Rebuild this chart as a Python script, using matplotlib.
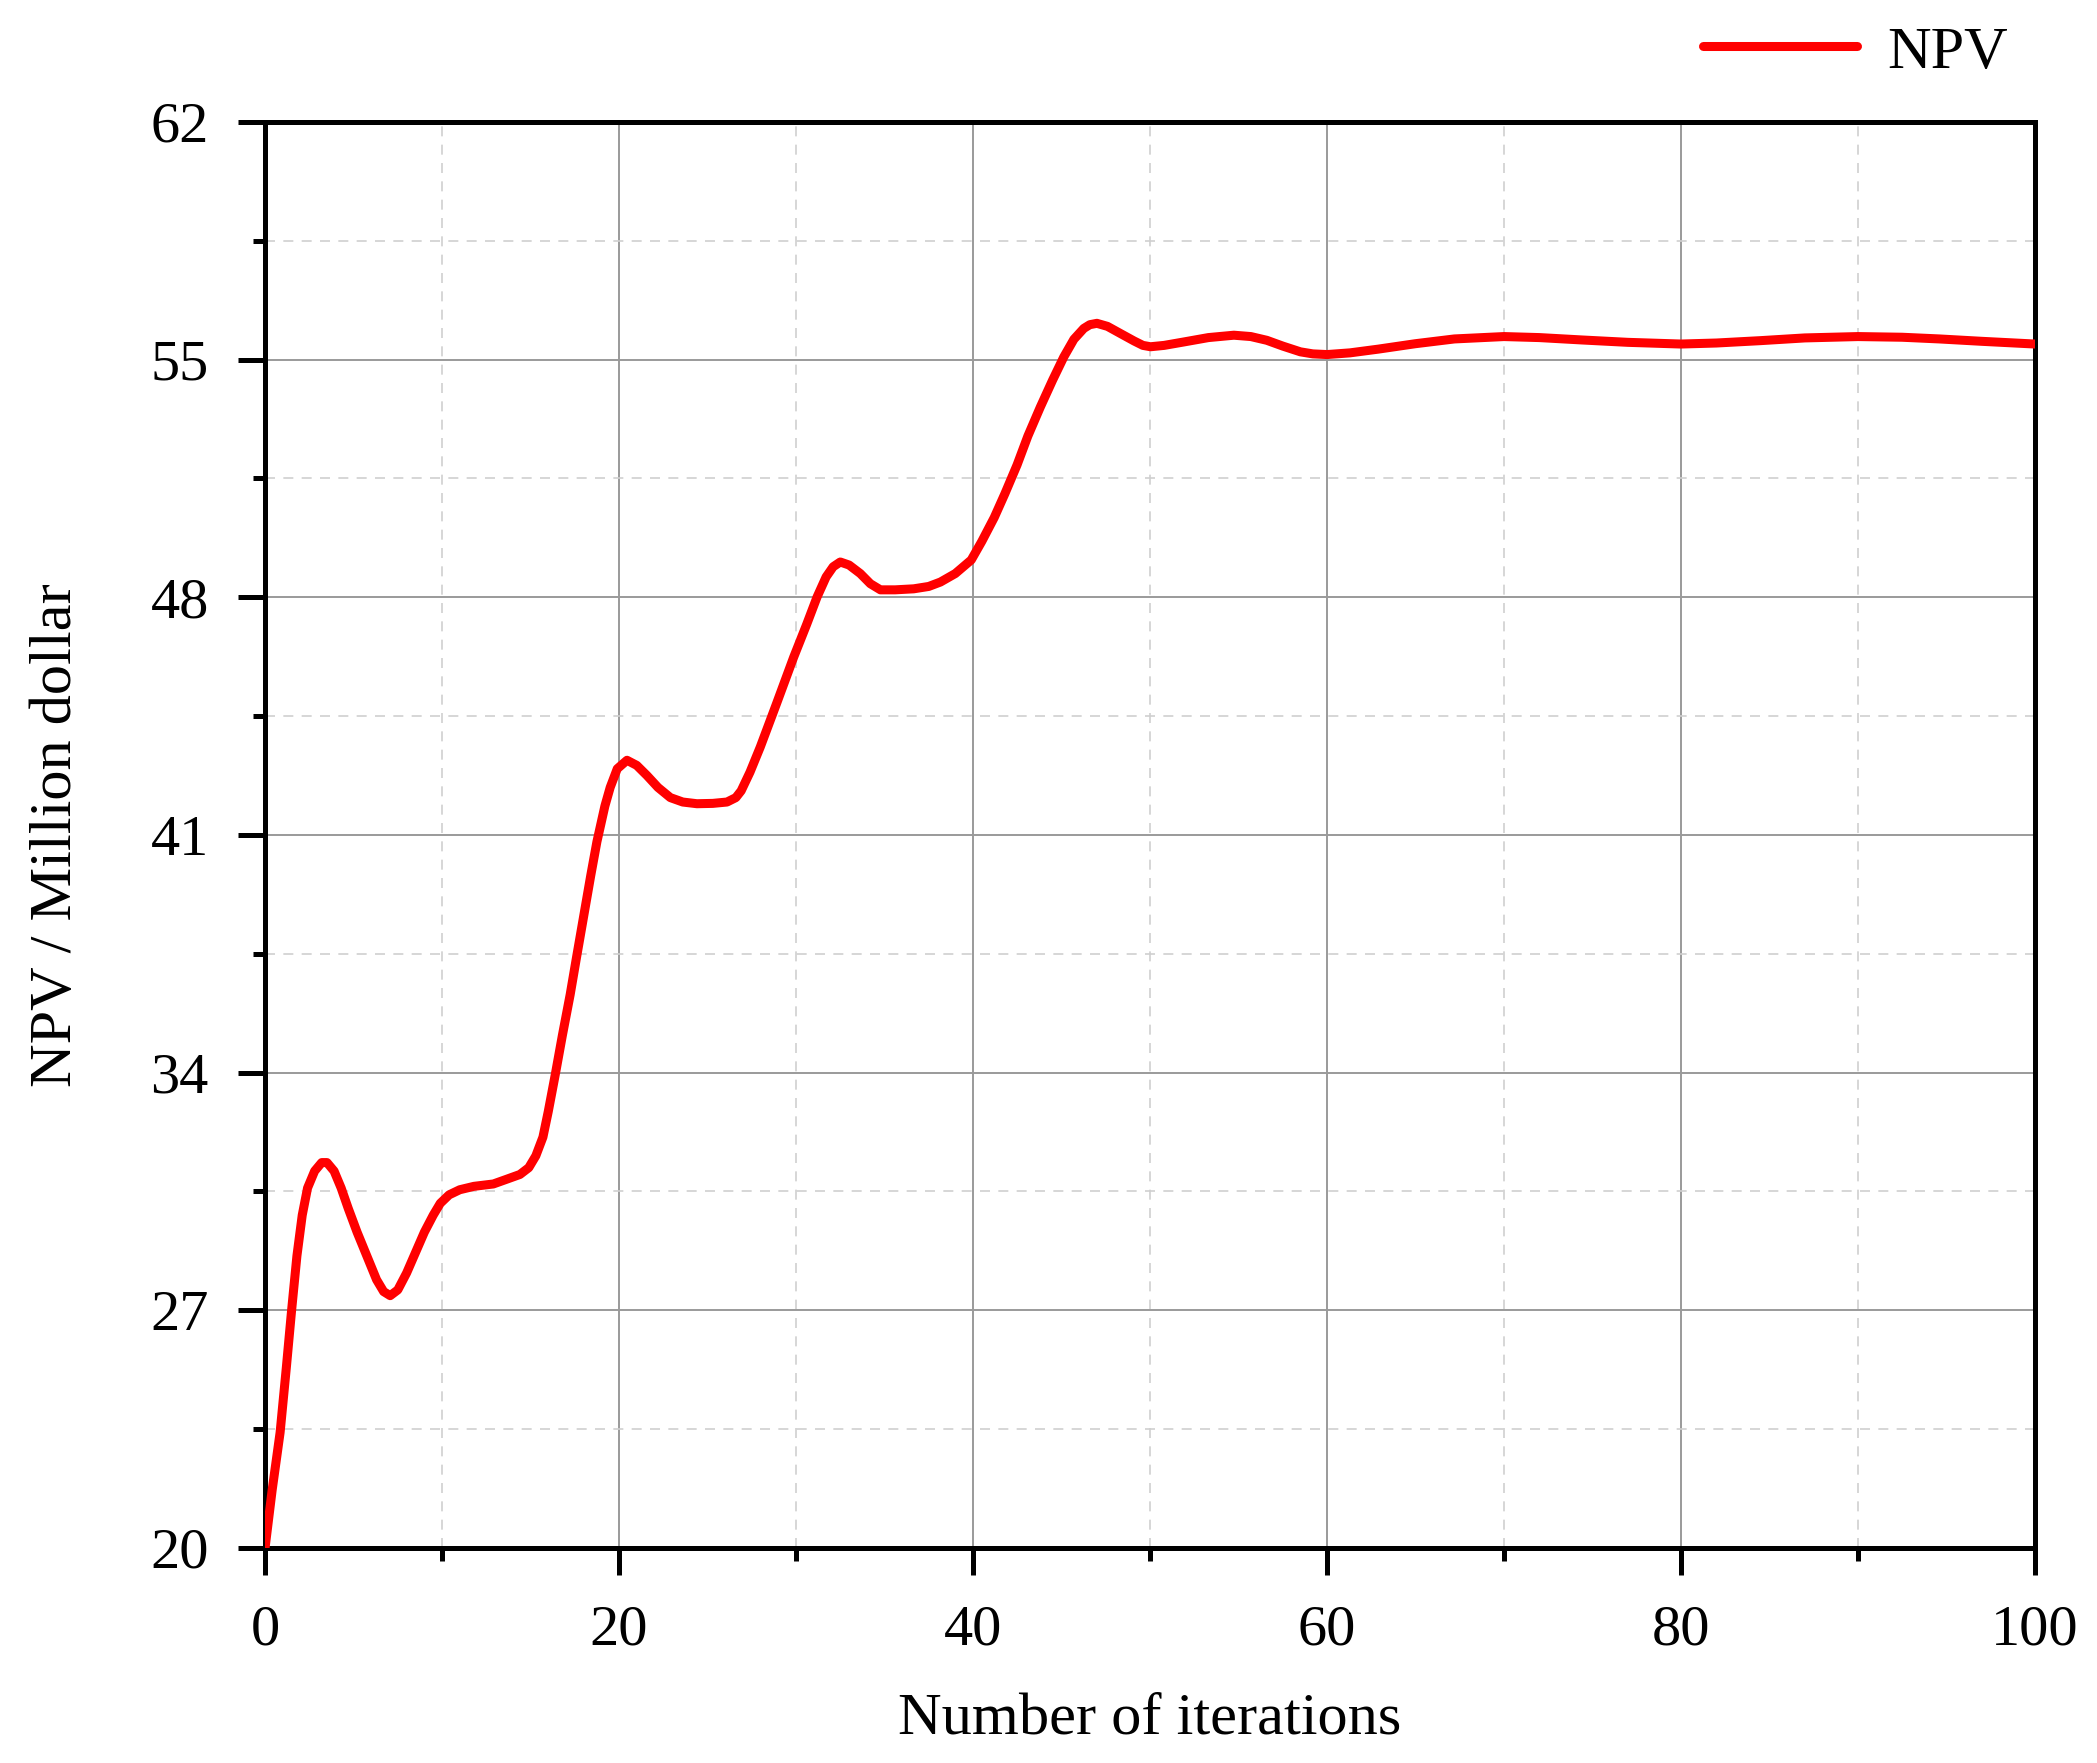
import matplotlib
matplotlib.use("Agg")
import matplotlib.pyplot as plt
from matplotlib.ticker import FixedLocator

# Data
iterations = [0, 0.4, 0.85, 1.2, 1.5, 1.8, 2.1, 2.4, 2.8, 3.2, 3.5, 3.9, 4.3,
              4.7, 5.2, 5.75, 6.3, 6.7, 7.07, 7.5, 8.0, 8.5, 9.0, 9.5, 9.9,
              10.4, 11.0, 11.8, 12.9, 13.6, 14.4, 14.9, 15.3, 15.7, 16.0,
              16.4, 16.8, 17.24, 17.6, 18.0, 18.4, 18.75, 19.2, 19.5, 19.9,
              20.45, 21.0, 21.58, 22.2, 22.9, 23.6, 24.4, 25.3, 26.1, 26.6,
              26.9, 27.4, 27.98, 28.9, 29.87, 30.6, 31.19, 31.7, 32.1, 32.5,
              33.0, 33.63, 34.2, 34.77, 35.6, 36.65, 37.5, 38.16, 39.0, 39.9,
              40.5, 41.2, 41.8, 42.49, 43.1, 43.8, 44.5, 45.13, 45.7, 46.26,
              46.6, 47.0, 47.6, 48.33, 49.1, 49.6, 50.03, 50.8, 51.9, 53.3,
              54.74, 55.7, 56.6, 57.5, 58.5, 59.2, 60.0, 61.3, 62.9, 65.0,
              67.2, 70.0, 72.0, 74.4, 77.0, 80.0, 82.0, 84.5, 87.0, 90.0,
              92.5, 94.6, 97.0, 100.0]
npv = [20.0, 21.7, 23.4, 25.3, 27.0, 28.6, 29.8, 30.6, 31.1, 31.35, 31.35, 31.1, 30.6,
       30.0, 29.3, 28.6, 27.9, 27.55, 27.43, 27.6, 28.1, 28.7, 29.3, 29.8, 30.15,
       30.4, 30.55, 30.65, 30.72, 30.85, 31.0, 31.2, 31.55, 32.1, 32.85,
       33.95, 35.1, 36.3, 37.4, 38.6, 39.8, 40.8, 41.85, 42.4, 42.95,
       43.2, 43.05, 42.75, 42.4, 42.1, 41.97, 41.92, 41.93, 41.97, 42.1,
       42.3, 42.85, 43.59, 44.87, 46.24, 47.2, 48.01, 48.6, 48.9, 49.04,
       48.95, 48.7, 48.4, 48.22, 48.22, 48.25, 48.32, 48.45, 48.7, 49.1,
       49.65, 50.35, 51.05, 51.9, 52.75, 53.6, 54.4, 55.08, 55.6, 55.92,
       56.03, 56.07, 55.98, 55.77, 55.55, 55.42, 55.38, 55.42, 55.52, 55.65,
       55.72, 55.68, 55.57, 55.4, 55.23, 55.17, 55.15, 55.2, 55.31, 55.47,
       55.61, 55.68, 55.65, 55.58, 55.51, 55.46, 55.49, 55.56, 55.64, 55.68,
       55.66, 55.61, 55.54, 55.46]

x_ticks = [0, 20, 40, 60, 80, 100]
x_minor = [10, 30, 50, 70, 90]
y_ticks = [20, 27, 34, 41, 48, 55, 62]
y_minor = [23.5, 30.5, 37.5, 44.5, 51.5, 58.5]
x_label = "Number of iterations"
y_label = "NPV / Million dollar"
series_name = "NPV"

plt.rcParams['font.family'] = ['Liberation Serif', 'DejaVu Serif']

fig = plt.figure(figsize=(20.97, 17.63), dpi=100)
ax = fig.add_axes([0.1264, 0.1220, 0.9704 - 0.1264, 0.9308 - 0.1220])

ax.plot(iterations, npv, color='#ff0000', lw=6.5, label=series_name,
        solid_capstyle='round', solid_joinstyle='round', zorder=3)

ax.set_xlim(0, 100)
ax.set_ylim(20, 62)
ax.xaxis.set_major_locator(FixedLocator(x_ticks))
ax.xaxis.set_minor_locator(FixedLocator(x_minor))
ax.yaxis.set_major_locator(FixedLocator(y_ticks))
ax.yaxis.set_minor_locator(FixedLocator(y_minor))

ax.grid(which='major', color='#9a9a9a', lw=1.4, ls='-', zorder=0)
ax.grid(which='minor', color='#cfcfcf', lw=1.2, ls=(0, (6, 5)), zorder=0)
ax.set_axisbelow(True)

for s in ax.spines.values():
    s.set_linewidth(3.6)
    s.set_color('black')

ax.tick_params(which='major', direction='out', length=19.5, width=3.6,
               labelsize=42, pad=21, colors='black')
ax.tick_params(which='minor', direction='out', length=9, width=3.6)
ax.tick_params(top=False, right=False)

ax.set_xlabel(x_label, fontsize=43.5, labelpad=26)
ax.set_ylabel(y_label, fontsize=43.5, labelpad=48)

leg = ax.legend(loc='center right', bbox_to_anchor=(0.9576, 0.970),
                bbox_transform=fig.transFigure, frameon=False, fontsize=43.5,
                handlelength=2.55, handletextpad=0.5, borderpad=0,
                borderaxespad=0)

fig.savefig("out.png", dpi=100)
